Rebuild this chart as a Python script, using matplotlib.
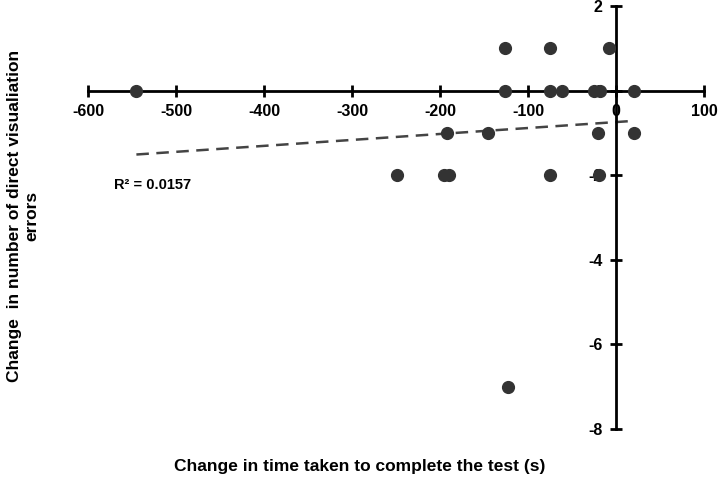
import numpy as np
import matplotlib.pyplot as plt

plt.rcParams['font.family'] = ['Liberation Sans', 'DejaVu Sans']
plt.rcParams['font.weight'] = 'bold'
plt.rcParams['axes.unicode_minus'] = False

# Data: change in time (s) vs change in number of errors
time_change = [-545, -126, -75, -8,
               -126, -75, -61, -25, -18, 20,
               -192, -145, -20, 20,
               -249, -195, -190, -75, -19,
               -123]
error_change = [0, 1, 1, 1,
                0, 0, 0, 0, 0, 0,
                -1, -1, -1, -1,
                -2, -2, -2, -2, -2,
                -7]

x_ticks = [-600, -500, -400, -300, -200, -100, 0, 100]
y_ticks = [-8, -6, -4, -2, 0, 2]

fig = plt.figure(figsize=(7.2, 4.79), dpi=100)
ax = fig.add_axes([0.1222, 0.1044, 0.8556, 0.883])

ax.scatter(time_change, error_change, s=72, color='#333333', zorder=3)

# Linear trend line
slope, intercept = np.polyfit(time_change, error_change, 1)
xs = np.array([min(time_change), max(time_change)])
ax.plot(xs, slope * xs + intercept, linestyle=(0, (5, 3)), color='#444444', lw=1.8)
ax.text(-571, -2.22, 'R² = 0.0157', fontsize=10.5, fontweight='bold', va='center')

ax.set_xlim(-600, 100)
ax.set_ylim(-8, 2)
ax.set_xticks(x_ticks)
ax.set_yticks(y_ticks)

ax.spines['left'].set_position(('data', 0))
ax.spines['bottom'].set_position(('data', 0))
ax.spines['top'].set_visible(False)
ax.spines['right'].set_visible(False)
ax.spines['left'].set_linewidth(2)
ax.spines['bottom'].set_linewidth(2)
ax.tick_params(direction='inout', length=9, width=2, labelsize=11.5, pad=5)

fig.text(0.5, 0.027, 'Change in time taken to complete the test (s)',
         ha='center', va='center', fontsize=12.5, fontweight='bold')
fig.text(0.032, 0.55, 'Change  in number of direct visualiation\nerrors',
         ha='center', va='center', rotation=90, fontsize=12.5, fontweight='bold')

fig.savefig('out.png', dpi=100)
